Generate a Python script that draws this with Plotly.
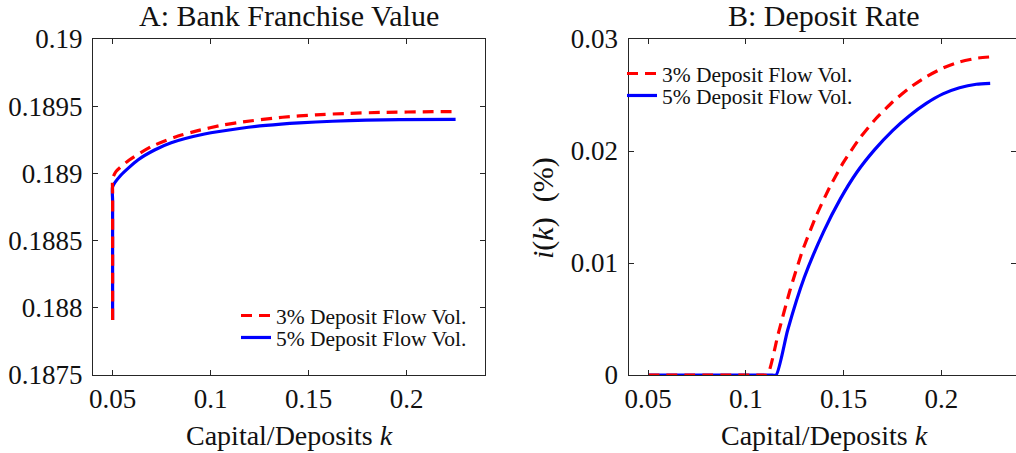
import plotly.graph_objects as go

# Panel A: Bank franchise value
fv_k_5 = [0.05, 0.05, 0.05, 0.0543, 0.0629, 0.0714, 0.0799, 0.0969, 0.1156, 0.1282, 0.1452, 0.1622, 0.1793, 0.1963, 0.2250]
fv_5 = [0.18791, 0.18880, 0.18890, 0.188988, 0.189100, 0.189174, 0.189228, 0.189293, 0.189336, 0.189357, 0.189376, 0.189388, 0.189396, 0.189400, 0.189402]
fv_k_3 = [0.05, 0.05, 0.05, 0.0517, 0.0585, 0.0697, 0.0816, 0.0935, 0.1062, 0.1164, 0.1367, 0.1537, 0.1708, 0.1878, 0.2133, 0.2250]
fv_3 = [0.18791, 0.18886, 0.18896, 0.189013, 0.189100, 0.189199, 0.189269, 0.189318, 0.189360, 0.189383, 0.189418, 0.189436, 0.189447, 0.189454, 0.189459, 0.189460]

# Panel B: Deposit rate
dr_k_5 = [0.05, 0.1125, 0.1155, 0.1214, 0.1299, 0.1398, 0.1483, 0.1568, 0.1658, 0.1752, 0.1837, 0.1923, 0.2008, 0.2093, 0.2179, 0.2250]
dr_5 = [0, 0, 0, 0.0040, 0.0087, 0.0128, 0.0157, 0.0181, 0.0201, 0.02185, 0.02315, 0.02425, 0.02510, 0.02565, 0.02596, 0.02604]
dr_k_3 = [0.05, 0.1080, 0.1110, 0.1166, 0.1225, 0.1290, 0.1360, 0.1430, 0.1500, 0.1581, 0.1666, 0.1752, 0.1837, 0.1923, 0.2008, 0.2093, 0.2179, 0.2250]
dr_3 = [0, 0, 0, 0.0037, 0.0075, 0.0111, 0.0142, 0.0168, 0.0190, 0.0211, 0.0229, 0.02440, 0.02563, 0.02663, 0.02740, 0.02795, 0.02828, 0.02840]

names = ["3% Deposit Flow Vol.", "5% Deposit Flow Vol."]
x_ticks = [0.05, 0.1, 0.15, 0.2]
x_ticktext = ["0.05", "0.1", "0.15", "0.2"]
ya_ticks = [0.1875, 0.188, 0.1885, 0.189, 0.1895, 0.19]
ya_ticktext = ["0.1875", "0.188", "0.1885", "0.189", "0.1895", "0.19"]
yb_ticks = [0, 0.01, 0.02, 0.03]
yb_ticktext = ["0", "0.01", "0.02", "0.03"]

RED = "#FF0000"
BLUE = "#0000FF"
AX = "#262626"
TXT = "#111111"
FONT = "Liberation Serif, Times New Roman, DejaVu Serif, serif"
W, H = 1016, 453
DASH = "11px,7px"
LW = 3.2

fig = go.Figure()
line5 = dict(color=BLUE, width=LW, shape="spline", smoothing=0.6)
line3 = dict(color=RED, width=LW, dash=DASH, shape="spline", smoothing=0.6)
fig.add_trace(go.Scatter(x=fv_k_5, y=fv_5, mode="lines", name=names[1], line=line5,
                         xaxis="x", yaxis="y", legend="legend2"))
fig.add_trace(go.Scatter(x=fv_k_3, y=fv_3, mode="lines", name=names[0], line=line3,
                         xaxis="x", yaxis="y", legend="legend"))
fig.add_trace(go.Scatter(x=dr_k_5, y=dr_5, mode="lines", name=names[1], line=line5,
                         xaxis="x2", yaxis="y2", legend="legend4"))
fig.add_trace(go.Scatter(x=dr_k_3, y=dr_3, mode="lines", name=names[0], line=line3,
                         xaxis="x2", yaxis="y2", legend="legend3"))

ydom = [1 - 375 / H, 1 - 39 / H]
axcommon = dict(showline=True, linecolor=AX, linewidth=1, mirror="ticks", ticks="inside",
                ticklen=5, tickcolor=AX, tickwidth=1, showgrid=False, zeroline=False,
                automargin=False, tickfont=dict(family=FONT, size=27, color=TXT))


def leg(x, ytop):
    return dict(x=x / W, y=1 - ytop / H, xanchor="left", yanchor="top", bgcolor="rgba(0,0,0,0)",
                font=dict(family=FONT, size=21.5, color=TXT), itemwidth=30, borderwidth=0)


fig.update_layout(
    template="none",
    width=W, height=H,
    margin=dict(l=0, r=0, t=0, b=0, pad=0, autoexpand=False),
    paper_bgcolor="white", plot_bgcolor="white",
    font=dict(family=FONT, color=TXT),
    showlegend=True,
    xaxis=dict(domain=[93 / W, 485 / W], range=[0.04, 0.24], tickvals=x_ticks, ticktext=x_ticktext,
               anchor="y", ticklabelstandoff=0, **axcommon),
    yaxis=dict(domain=ydom, range=[0.1875, 0.19], tickvals=ya_ticks, ticktext=ya_ticktext,
               anchor="x", ticklabelstandoff=4, **axcommon),
    xaxis2=dict(domain=[628.5 / W, 1.0], range=[0.04, 0.2382], tickvals=x_ticks, ticktext=x_ticktext,
                anchor="y2", ticklabelstandoff=0, **axcommon),
    yaxis2=dict(domain=ydom, range=[0, 0.03], tickvals=yb_ticks, ticktext=yb_ticktext,
                anchor="x2", ticklabelstandoff=4, **axcommon),
    legend=leg(236, 295),
    legend2=leg(236, 317),
    legend3=leg(622, 53),
    legend4=leg(622, 75),
    annotations=[
        dict(text="A: Bank Franchise Value", x=289 / W, y=1 - 16 / H, xref="paper", yref="paper",
             showarrow=False, font=dict(family=FONT, size=30, color=TXT), xanchor="center", yanchor="middle"),
        dict(text="B: Deposit Rate", x=824 / W, y=1 - 16 / H, xref="paper", yref="paper",
             showarrow=False, font=dict(family=FONT, size=30, color=TXT), xanchor="center", yanchor="middle"),
        dict(text="Capital/Deposits <i>k</i>", x=289 / W, y=1 - 435 / H, xref="paper", yref="paper",
             showarrow=False, font=dict(family=FONT, size=28, color=TXT), xanchor="center", yanchor="middle"),
        dict(text="Capital/Deposits <i>k</i>", x=824 / W, y=1 - 435 / H, xref="paper", yref="paper",
             showarrow=False, font=dict(family=FONT, size=28, color=TXT), xanchor="center", yanchor="middle"),
        dict(text="<i>i</i>(<i>k</i>)  (%)", x=543 / W, y=1 - 208 / H, xref="paper", yref="paper",
             showarrow=False, textangle=-90, font=dict(family=FONT, size=30, color=TXT),
             xanchor="center", yanchor="middle"),
    ],
)

fig.write_html("out.html", config={"displayModeBar": False},
               post_script="document.body.style.margin='0px';document.body.style.overflow='hidden';")
